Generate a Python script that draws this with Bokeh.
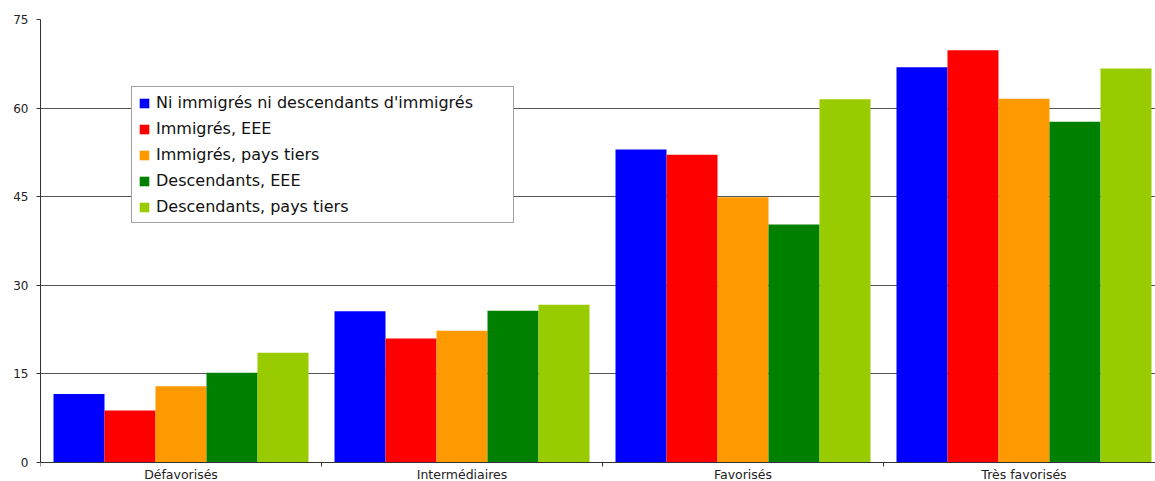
from bokeh.plotting import figure
from bokeh.models import Range1d, FixedTicker, Legend, LegendItem, ColumnDataSource, Span
from bokeh.core.properties import value
from bokeh.embed import file_html
from bokeh.resources import INLINE

categories = ["Défavorisés", "Intermédiaires", "Favorisés", "Très favorisés"]
series_names = [
    "Ni immigrés ni descendants d'immigrés",
    "Immigrés, EEE",
    "Immigrés, pays tiers",
    "Descendants, EEE",
    "Descendants, pays tiers",
]
ni_immigres = [11.6, 25.6, 53.0, 66.9]
immigres_eee = [8.8, 21.0, 52.1, 69.8]
immigres_tiers = [12.9, 22.3, 44.9, 61.6]
descendants_eee = [15.2, 25.7, 40.3, 57.7]
descendants_tiers = [18.6, 26.7, 61.5, 66.7]
y_ticks = [0, 15, 30, 45, 60, 75]

series_values = [ni_immigres, immigres_eee, immigres_tiers, descendants_eee, descendants_tiers]
colors = ["#0000FF", "#FF0000", "#FF9900", "#008000", "#99CC00"]

FONT = "DejaVu Sans"
W, H = 1155, 481
frame_left = 40
frame_top = 19
plot_h = 443.0                      # pixels from 0 to 75
frame_w = W - frame_left
cat_px = 281.0
px_per_unit = plot_h / y_ticks[-1]
below = (H - frame_top - plot_h) / px_per_unit   # room under the zero line, in data units

p = figure(width=W, height=H, output_backend="svg", toolbar_location=None,
           x_range=Range1d(0, frame_w / cat_px), y_range=Range1d(-below, y_ticks[-1]),
           min_border_left=frame_left, min_border_right=0, min_border_top=frame_top,
           min_border_bottom=0)
p.outline_line_color = None
p.background_fill_color = "white"
p.border_fill_color = "white"

bar_w = 51.0 / cat_px
offsets = [-2 * bar_w, -bar_w, 0.0, bar_w, 2 * bar_w]
centers = [i + 0.5 for i in range(len(categories))]
boundaries = list(range(len(categories) + 1))

renderers = []
for name, vals, col, off in zip(series_names, series_values, colors, offsets):
    src = ColumnDataSource(dict(x=[c + off for c in centers], top=vals))
    r = p.vbar(x="x", top="top", bottom=0, width=bar_w, source=src,
               fill_color=col, line_color=None)
    renderers.append(r)

# gridlines
p.xgrid.grid_line_color = None
p.ygrid.ticker = FixedTicker(ticks=y_ticks)
p.ygrid.grid_line_color = "#555555"
p.ygrid.grid_line_width = 1

# y axis
p.yaxis.ticker = FixedTicker(ticks=y_ticks)
p.yaxis.bounds = (0, y_ticks[-1])
p.yaxis.major_label_text_font = FONT
p.yaxis.major_label_text_font_size = "12px"
p.yaxis.major_label_text_color = "#222222"
p.yaxis.axis_line_color = "#333333"
p.yaxis.major_tick_line_color = "#333333"
p.yaxis.major_tick_out = 4
p.yaxis.major_tick_in = 0
p.yaxis.minor_tick_line_color = None
p.yaxis.major_label_standoff = 8

# category axis drawn at the zero line
p.xaxis.visible = False
p.add_layout(Span(location=0, dimension="width", line_color="#333333", line_width=1))
tick_len = 4 / px_per_unit
p.segment(x0=boundaries, y0=[0] * len(boundaries), x1=boundaries,
          y1=[-tick_len] * len(boundaries), line_color="#333333", line_width=1)
label_y = -4.5 / px_per_unit
p.text(x=centers, y=[label_y] * len(centers), text=categories,
       text_align="center", text_baseline="top", text_font=value(FONT),
       text_font_size="12.5px", text_color="#222222")

items = [LegendItem(label=n, renderers=[r]) for n, r in zip(series_names, renderers)]
legend = Legend(items=items, location=(91, H - 223))
legend.label_text_font = FONT
legend.label_text_font_size = "16px"
legend.label_text_color = "#111111"
legend.glyph_width = 12
legend.glyph_height = 12
legend.label_height = 19
legend.label_width = 351
legend.spacing = 7
legend.padding = 6
legend.margin = 0
legend.label_standoff = 6
legend.border_line_color = "#444444"
legend.border_line_width = 1
legend.background_fill_color = "white"
legend.background_fill_alpha = 1
p.add_layout(legend, "center")

open("out.html", "w").write(file_html(p, INLINE))
